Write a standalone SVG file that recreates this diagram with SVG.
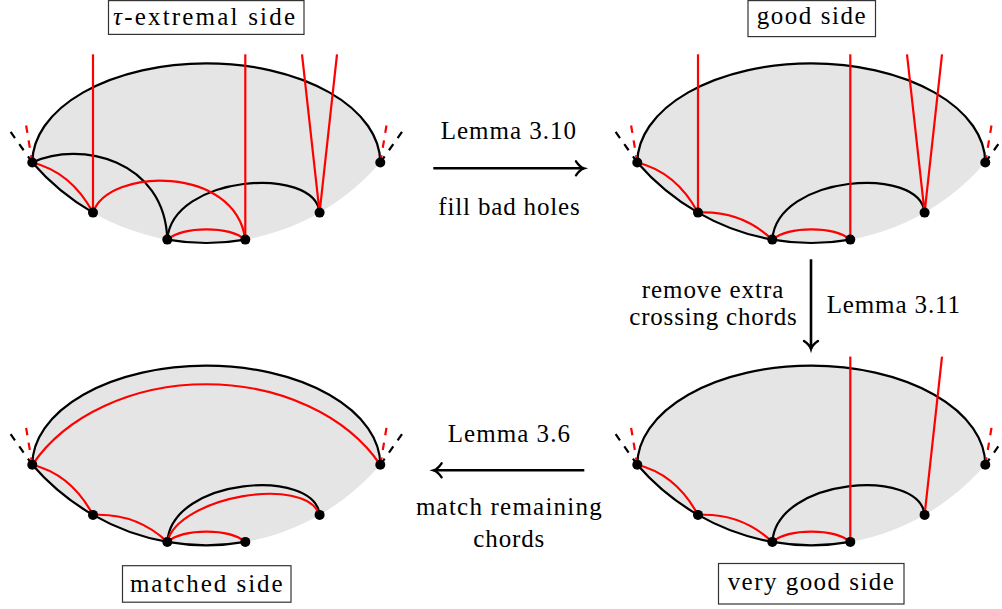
<svg xmlns="http://www.w3.org/2000/svg" width="1002" height="609" viewBox="0 0 1002 609">
<style>
.fill{fill:#e5e5e5;stroke:none}
.bk{fill:none;stroke:#000;stroke-width:2.2}
.rd{fill:none;stroke:#f00;stroke-width:2.2}
.dbk{fill:none;stroke:#000;stroke-width:2.2;stroke-dasharray:7.5 7.5}
.drd{fill:none;stroke:#f00;stroke-width:2.2;stroke-dasharray:7.5 7.5}
.dot{fill:#000}
.lbl{font-family:"Liberation Serif","Times New Roman",serif;font-size:25px;fill:#000;text-anchor:middle}
.box{fill:#fff;stroke:#333;stroke-width:1.2}
.arr{fill:none;stroke:#000;stroke-width:2.6}
</style>
<defs>
<marker id="to" markerUnits="userSpaceOnUse" viewBox="-10 -9 12 18" refX="0" refY="0" markerWidth="12" markerHeight="18" orient="auto" overflow="visible">
<path d="M -8 -7 C -5 -2.5 -2 -0.6 0 0 C -2 0.6 -5 2.5 -8 7" fill="none" stroke="#000" stroke-width="2.4" stroke-linecap="round"/>
</marker>
<g id="base">
<path class="fill" d="M 32.3 162.5 A 174 99.2 0 0 1 380.3 162.5 A 234 243 0 0 1 32.3 162.5 Z"/>
<path class="bk" d="M 32.3 162.5 A 174 99.2 0 0 1 380.3 162.5"/>
<path class="dbk" d="M 32.3 162.5 L 10 131"/>
<path class="drd" d="M 32.3 162.5 L 25.7 123"/>
<path class="dbk" d="M 380.3 162.5 L 402.6 131"/>
<path class="drd" d="M 380.3 162.5 L 386.9 123"/>
<path class="bk" d="M 32.3 162.5 A 234 243 0 0 0 93 212.6"/>
<path class="bk" d="M 167.3 239.6 A 234 243 0 0 0 245.3 239.6"/>
<path class="bk" d="M 167.3 239.6 C 172 175 315 165 319.6 212.6"/>
<path class="rd" d="M 32.3 162.5 Q 71 172 93 212.6"/>
<path class="rd" d="M 167.3 239.6 C 185 226 228 226 245.3 239.6"/>
</g>
<g id="dots">
<circle class="dot" cx="32.3" cy="162.5" r="5"/>
<circle class="dot" cx="93" cy="212.6" r="5"/>
<circle class="dot" cx="167.3" cy="239.6" r="5"/>
<circle class="dot" cx="245.3" cy="239.6" r="5"/>
<circle class="dot" cx="319.6" cy="212.6" r="5"/>
<circle class="dot" cx="380.3" cy="162.5" r="5"/>
</g>
</defs>

<g id="panel-tau-extremal">
<use href="#base"/>
<path class="bk" d="M 32.3 162.5 C 80 140 165 160 167.3 239.6"/>
<path class="rd" d="M 93 212.6 C 108 167.6 235.3 164.6 245.3 239.6"/>
<path class="rd" d="M 93 54.3 V 212.6"/>
<path class="rd" d="M 245.3 54.3 V 239.6"/>
<path class="rd" d="M 302 54.3 L 319.6 212.6 L 337 54.3"/>
<use href="#dots"/>
</g>

<g id="panel-good" transform="translate(605,0)">
<use href="#base"/>
<path class="bk" d="M 93 212.6 A 234 243 0 0 0 167.3 239.6"/>
<path class="rd" d="M 93 212.6 Q 136.4 210.5 167.3 239.6"/>
<path class="rd" d="M 93 54.3 V 212.6"/>
<path class="rd" d="M 245.3 54.3 V 239.6"/>
<path class="rd" d="M 302 54.3 L 319.6 212.6 L 337 54.3"/>
<use href="#dots"/>
</g>

<g id="panel-matched" transform="translate(0,302.3)">
<use href="#base"/>
<path class="bk" d="M 93 212.6 A 234 243 0 0 0 167.3 239.6"/>
<path class="rd" d="M 93 212.6 Q 136.4 210.5 167.3 239.6"/>
<path class="rd" d="M 32.3 162.5 A 195.6 148.3 0 0 1 380.3 162.5"/>
<path class="rd" d="M 167.3 239.6 C 178 195 305 172 319.6 212.6"/>
<use href="#dots"/>
</g>

<g id="panel-very-good" transform="translate(605,302.3)">
<use href="#base"/>
<path class="bk" d="M 93 212.6 A 234 243 0 0 0 167.3 239.6"/>
<path class="rd" d="M 93 212.6 Q 136.4 210.5 167.3 239.6"/>
<path class="rd" d="M 245.3 54.3 V 239.6"/>
<path class="rd" d="M 319.6 212.6 L 337 54.3"/>
<use href="#dots"/>
</g>

<g id="label-tau-extremal">
<rect class="box" x="108.5" y="0.6" width="195.5" height="33.8"/>
<text class="lbl" x="204" y="25" textLength="182" lengthAdjust="spacing"><tspan font-style="italic">τ</tspan>-extremal side</text>
</g>
<g id="label-good">
<rect class="box" x="748" y="0.6" width="127.5" height="36"/>
<text class="lbl" x="811.2" y="24" textLength="109" lengthAdjust="spacing">good side</text>
</g>
<g id="label-matched">
<rect class="box" x="122.5" y="565.7" width="168.5" height="36.5"/>
<text class="lbl" x="206.3" y="591.7" textLength="152.7" lengthAdjust="spacing">matched side</text>
</g>
<g id="label-very-good">
<rect class="box" x="718.5" y="563.5" width="185.5" height="40.5"/>
<text class="lbl" x="810.8" y="590" textLength="166.3" lengthAdjust="spacing">very good side</text>
</g>

<g id="connectors">
<path class="arr" d="M 433.3 168.3 H 584" marker-end="url(#to)"/>
<path class="arr" d="M 811 259.3 V 349" marker-end="url(#to)"/>
<path class="arr" d="M 584.3 470.3 H 433.6" marker-end="url(#to)"/>
<text class="lbl" x="508.3" y="139.3" textLength="135.3" lengthAdjust="spacing">Lemma 3.10</text>
<text class="lbl" x="509" y="215" textLength="141.4" lengthAdjust="spacing">fill bad holes</text>
<text class="lbl" x="712.5" y="298.3" textLength="141.6" lengthAdjust="spacing">remove extra</text>
<text class="lbl" x="713" y="325" textLength="167.4" lengthAdjust="spacing">crossing chords</text>
<text class="lbl" x="893.3" y="312.7" textLength="133.3" lengthAdjust="spacing">Lemma 3.11</text>
<text class="lbl" x="508.8" y="441.7" textLength="122.3" lengthAdjust="spacing">Lemma 3.6</text>
<text class="lbl" x="508.8" y="515" textLength="185.7" lengthAdjust="spacing">match remaining</text>
<text class="lbl" x="508.8" y="546.7" textLength="71" lengthAdjust="spacing">chords</text>
</g>
</svg>
